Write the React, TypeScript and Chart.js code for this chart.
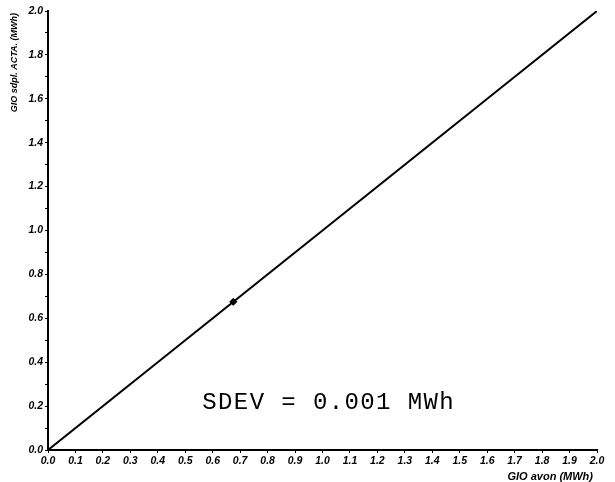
import React, { useEffect, useRef } from "react";
import { Chart, registerables } from "chart.js";

Chart.register(...registerables);

const lineX = [0.0, 2.0];
const lineY = [0.0, 2.0];
const pointX = [0.675];
const pointY = [0.675];
const xTicksMin = 0;
const xTicksMax = 2;
const yTicksMin = 0;
const yTicksMax = 2;
const annotationText = "SDEV = 0.001 MWh";
const xTitle = "GIO avon (MWh)";
const yTitle = "GIO sdpl. ACTA. (MWh)";

export default function App() {
  const ref = useRef<HTMLCanvasElement | null>(null);
  useEffect(() => {
    if (!ref.current) return;
    const textPlugin = {
      id: "texts",
      afterDraw(chart: any) {
        const ctx = chart.ctx;
        const xs = chart.scales.x;
        const ys = chart.scales.y;
        ctx.save();
        ctx.fillStyle = "#000";
        ctx.font = "24px 'Liberation Mono', 'DejaVu Sans Mono', monospace";
        try { (ctx as any).letterSpacing = "1.4px"; } catch (e) {}
        ctx.textBaseline = "middle";
        ctx.textAlign = "left";
        ctx.fillText(annotationText, xs.getPixelForValue(0.562), ys.getPixelForValue(0.217));
        try { (ctx as any).letterSpacing = "0px"; } catch (e) {}
        ctx.font = "italic bold 11px 'Liberation Sans', Arial, sans-serif";
        ctx.textAlign = "right";
        ctx.fillText(xTitle, xs.right - 4, 477);
        ctx.font = "italic bold 9px 'Liberation Sans', Arial, sans-serif";
        ctx.translate(15, ys.top + 2);
        ctx.rotate(-Math.PI / 2);
        ctx.textAlign = "right";
        ctx.fillText(yTitle, 0, 0);
        ctx.restore();
      },
    };
    const tickFont = { size: 10.5, style: "italic" as const, weight: "bold" as const, family: "'Liberation Sans', Arial, sans-serif" };
    const chart = new Chart(ref.current, {
      type: "scatter",
      data: {
        datasets: [
          {
            data: lineX.map((x, i) => ({ x, y: lineY[i] })),
            showLine: true,
            borderColor: "#000",
            borderWidth: 2,
            pointRadius: 0,
          },
          {
            data: pointX.map((x, i) => ({ x, y: pointY[i] })),
            pointStyle: "rectRot",
            pointRadius: 3.5,
            backgroundColor: "#000",
            borderColor: "#000",
          },
        ],
      },
      options: {
        animation: false,
        responsive: false,
        layout: { padding: { left: 0, top: 11, right: 18, bottom: 0 } },
        plugins: { legend: { display: false }, tooltip: { enabled: false } },
        scales: {
          x: {
            type: "linear",
            min: xTicksMin,
            max: xTicksMax,
            afterFit(scale: any) {
              scale.height = 32;
            },
            border: { display: true, color: "#000", width: 2 },
            grid: { drawOnChartArea: false, drawTicks: true, tickLength: 3, color: "#000" },
            ticks: {
              stepSize: 0.1,
              maxRotation: 0,
              autoSkip: false,
              padding: 2,
              color: "#000",
              font: tickFont,
              callback: (v: any) => Number(v).toFixed(1),
            },
          },
          y: {
            type: "linear",
            min: yTicksMin,
            max: yTicksMax,
            afterFit(scale: any) {
              scale.width = 48;
            },
            border: { display: true, color: "#000", width: 2 },
            grid: { drawOnChartArea: false, drawTicks: true, tickLength: 3, color: "#000" },
            ticks: {
              stepSize: 0.1,
              autoSkip: false,
              padding: 2,
              color: "#000",
              font: tickFont,
              callback: (v: any) => {
                const n = Math.round(Number(v) * 10);
                return n % 2 === 0 ? (n / 10).toFixed(1) : "";
              },
            },
          },
        },
      },
      plugins: [textPlugin],
    });
    return () => chart.destroy();
  }, []);
  return (
    <div style={{ position: "absolute", left: 0, top: 0, width: 615, height: 482, background: "#fff" }}>
      <canvas ref={ref} width={615} height={482} />
    </div>
  );
}
